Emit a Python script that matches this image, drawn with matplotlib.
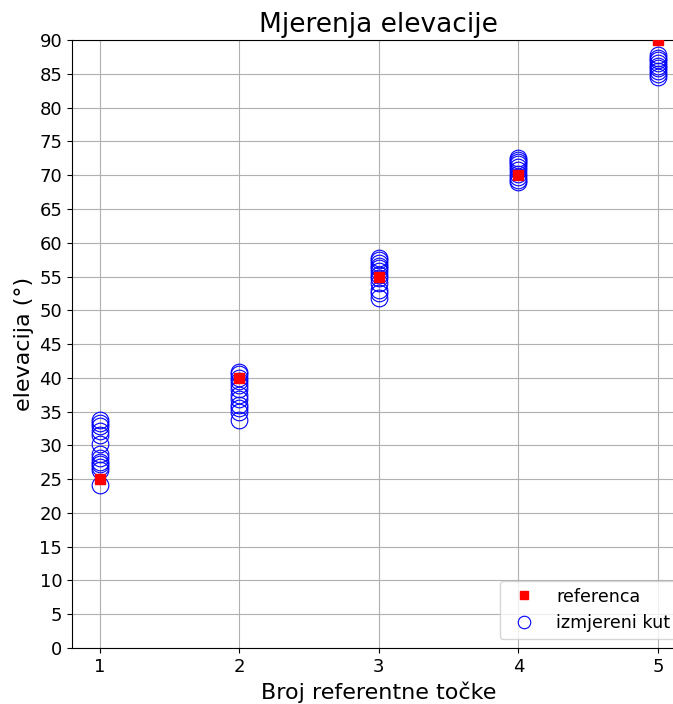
import numpy as np
import matplotlib
matplotlib.use('Agg')
import matplotlib.pyplot as plt

# Reference points and measured elevation angles
ref_tocke = [1, 2, 3, 4, 5]
ref_elevacija = [25, 40, 55, 70, 90]

mjerenja = {
    1: [33.8, 33.3, 32.8, 32.2, 31.6, 30.2, 28.8, 28.2, 27.6, 27.2, 26.8, 26.4, 24.2],
    2: [40.9, 40.5, 40.0, 39.5, 39.0, 38.3, 37.5, 36.8, 36.0, 35.5, 35.0, 33.7],
    3: [57.8, 57.4, 57.0, 56.6, 56.2, 55.8, 55.3, 54.8, 54.0, 53.0, 52.5, 51.8],
    4: [72.6, 72.3, 72.0, 71.6, 71.2, 70.8, 70.2, 69.7, 69.3, 69.0],
    5: [87.8, 87.4, 87.0, 86.6, 86.2, 85.8, 85.4, 85.0, 84.6],
}

x_mj = []
y_mj = []
for k, v in mjerenja.items():
    x_mj += [k] * len(v)
    y_mj += v

fig = plt.figure(figsize=(6.73, 7.04), dpi=100)
# axes run a bit past the right edge of the figure (as in the original)
ax = fig.add_axes([0.107, 0.0795, 0.912, 0.8635])

ax.plot(ref_tocke, ref_elevacija, 's', color='red', markersize=7.5, label='referenca', zorder=3)
ax.plot(x_mj, y_mj, 'o', markerfacecolor='none', markeredgecolor='blue', markeredgewidth=0.8,
        markersize=12, label='izmjereni kut', zorder=2)

ax.set_xlim(0.8, 5.2)
ax.set_ylim(0, 90)
ax.set_xticks(ref_tocke)
ax.set_yticks(np.arange(0, 91, 5))
ax.tick_params(labelsize=13)
ax.grid(True, color='#b0b0b0', linewidth=0.8)
ax.set_axisbelow(True)

ax.set_title('Mjerenja elevacije', fontsize=19)
ax.set_xlabel('Broj referentne točke', fontsize=16)
ax.set_ylabel('elevacija (°)', fontsize=16)
ax.legend(loc='lower right', fontsize=12.6, markerscale=0.75)

fig.savefig('out.png', dpi=100)
